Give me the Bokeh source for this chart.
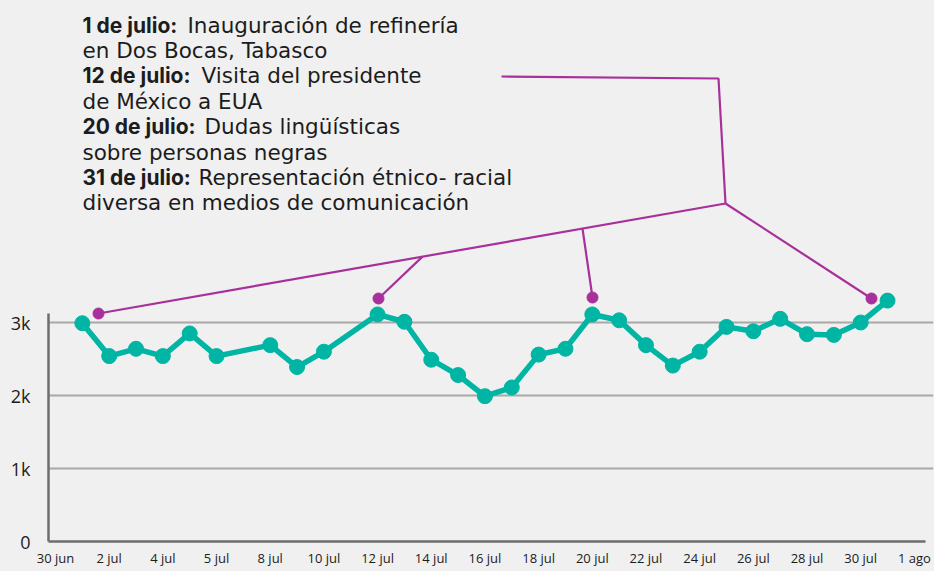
from bokeh.plotting import figure
from bokeh.models import FixedTicker, Range1d
from bokeh.core.properties import value
from bokeh.embed import file_html
from bokeh.resources import INLINE

# ---------------- data ----------------
days = [1, 2, 3, 4, 5, 6, 8, 9, 10, 12, 13, 14, 15, 16, 17, 18, 19, 20, 21,
        22, 23, 24, 25, 26, 27, 28, 29, 30, 31]
mentions = [2990, 2540, 2640, 2540, 2850, 2540, 2690, 2390, 2600, 3110, 3010,
            2490, 2280, 1990, 2110, 2560, 2640, 3110, 3030, 2690, 2410, 2600,
            2940, 2880, 3050, 2840, 2830, 3000, 3300]

x_tick_pos = [0, 2, 4, 6, 8, 10, 12, 14, 16, 18, 20, 22, 24, 26, 28, 30, 32]
x_tick_labels = ["30 jun", "2 jul", "4 jul", "5 jul", "8 jul", "10 jul", "12 jul",
                 "14 jul", "16 jul", "18 jul", "20 jul", "22 jul", "24 jul",
                 "26 jul", "28 jul", "30 jul", "1 ago"]
y_tick_pos = [0, 1000, 2000, 3000]
y_tick_labels = ["0", "1k", "2k", "3k"]

event_bold = ["1 de julio:", "12 de julio:", "20 de julio:", "31 de julio:"]
event_rest = ["Inauguración de refinería", "Visita del presidente",
              "Dudas lingüísticas", "Representación étnico- racial"]
event_second = ["en Dos Bocas, Tabasco", "de México a EUA",
                "sobre personas negras", "diversa en medios de comunicación"]

# ---------------- layout helpers (annotation placement) ----------------
PX_DAY0 = 55.0      # pixel of day 0
PX_PER_DAY = 26.84
PX_Y0 = 541.0       # pixel of value 0
PX_PER_UNIT = 0.073
FRAME_LEFT, FRAME_RIGHT = 48, 933


def ax(px):
    return (px - PX_DAY0) / PX_PER_DAY


def ay(py):
    return (PX_Y0 - py) / PX_PER_UNIT


TEAL = "#00b5a3"
MAGENTA = "#a8309a"
PAPER = "#f0f0f0"
INK = "#1c1c1c"

p = figure(width=934, height=571,
           x_range=Range1d(ax(FRAME_LEFT), ax(FRAME_RIGHT)),
           y_range=Range1d(0, ay(0)),
           output_backend="svg", toolbar_location=None,
           min_border_left=FRAME_LEFT, min_border_right=934 - FRAME_RIGHT,
           min_border_top=0, min_border_bottom=571 - int(PX_Y0))
p.outline_line_color = None
p.background_fill_color = PAPER
p.border_fill_color = PAPER

p.xgrid.grid_line_color = None
p.ygrid.ticker = FixedTicker(ticks=[t for t in y_tick_pos if t > 0])
p.ygrid.grid_line_color = "#a8a8a8"
p.ygrid.grid_line_width = 2

for axis in (p.xaxis[0], p.yaxis[0]):
    axis.axis_line_color = "#6e6e6e"
    axis.axis_line_width = 2.5
    axis.major_tick_line_color = None
    axis.minor_tick_line_color = None
    axis.major_tick_out = 0
    axis.major_tick_in = 0
    axis.minor_tick_out = 0
    axis.minor_tick_in = 0
    axis.major_label_text_color = INK
    axis.major_label_text_font = "Open Sans"

p.xaxis.ticker = FixedTicker(ticks=x_tick_pos)
p.xaxis.major_label_overrides = dict(zip(x_tick_pos, x_tick_labels))
p.xaxis.major_label_text_font_size = "13px"
p.xaxis.major_label_standoff = 7
p.xaxis.bounds = (ax(FRAME_LEFT), ax(925))

p.yaxis.ticker = FixedTicker(ticks=y_tick_pos)
p.yaxis.major_label_overrides = dict(zip(y_tick_pos, y_tick_labels))
p.yaxis.major_label_text_font_size = "18px"
p.yaxis.major_label_standoff = 18
p.yaxis.bounds = (0, ay(313))

# ---------------- annotation connector lines ----------------
dots_x = [ax(98), ax(378), ax(592), ax(871)]
dots_y = [ay(313), ay(298), ay(297), ay(298)]
hub = (ax(725), ay(203))


def on_main(xd):
    # point on the line from first event dot to the hub
    t = (xd - dots_x[0]) / (hub[0] - dots_x[0])
    return dots_y[0] + t * (hub[1] - dots_y[0])


j12 = (ax(422), on_main(ax(422)))
j20 = (ax(582), on_main(ax(582)))

p.multi_line(
    xs=[[dots_x[0], hub[0]], [dots_x[1], j12[0]], [dots_x[2], j20[0]],
        [dots_x[3], hub[0]], [hub[0], ax(718), ax(501)]],
    ys=[[dots_y[0], hub[1]], [dots_y[1], j12[1]], [dots_y[2], j20[1]],
        [dots_y[3], hub[1]], [hub[1], ay(78), ay(76)]],
    line_color=MAGENTA, line_width=2.2)
p.scatter(dots_x, dots_y, size=11, color=MAGENTA)

# ---------------- data line ----------------
p.line(days, mentions, line_color=TEAL, line_width=5.5)
p.scatter(days, mentions, size=15, color=TEAL)

# ---------------- annotation text ----------------
text_x = ax(82)
base0 = 24.5
step = 25.4
bold_offsets = [105, 119, 122, 116]
for i in range(4):
    y1 = ay(base0 + step * (2 * i))
    y2 = ay(base0 + step * (2 * i + 1))
    p.text(x=[text_x], y=[y1], text=[event_bold[i]],
           text_font=value("Inter"), text_font_style="bold",
           text_font_size="21px", text_color=INK,
           text_baseline="alphabetic", text_align="left")
    p.text(x=[text_x], y=[y1], text=[event_rest[i]], x_offset=bold_offsets[i],
           text_font=value("DejaVu Sans"), text_font_size="21.5px", text_color=INK,
           text_baseline="alphabetic", text_align="left")
    p.text(x=[text_x], y=[y2], text=[event_second[i]],
           text_font=value("DejaVu Sans"), text_font_size="21.5px", text_color=INK,
           text_baseline="alphabetic", text_align="left")

html = file_html(p, INLINE)
html = html.replace("<head>", "<head><style>body{background:%s;}</style>" % PAPER, 1)
open("out.html", "w").write(html)
